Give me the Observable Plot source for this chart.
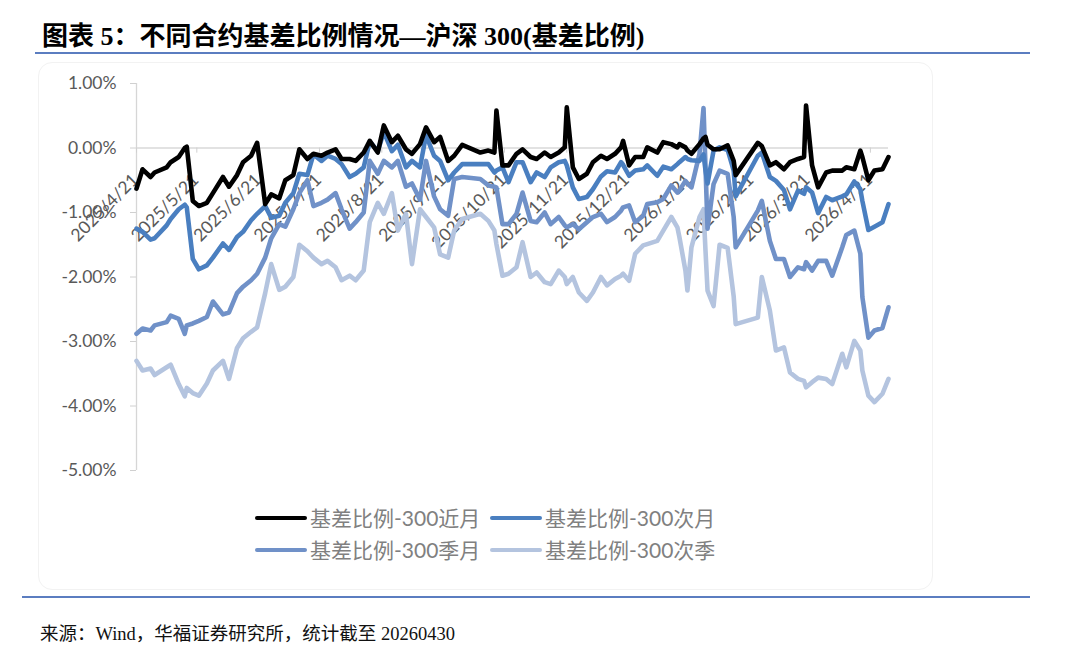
<!DOCTYPE html>
<html>
<head>
<meta charset="utf-8">
<script src="https://cdn.jsdelivr.net/npm/d3@7"></script>
<script src="https://cdn.jsdelivr.net/npm/@observablehq/plot@0.6"></script>
<style>
  html, body { margin: 0; padding: 0; background: #fff; }
  #page { position: relative; width: 1080px; height: 661px; overflow: hidden; background: #fff; }
  #title { position: absolute; left: 42px; top: 22px; font: bold 26px/30px "Liberation Serif", "Noto Sans CJK SC", serif; color: #000; white-space: nowrap; }
  .rule { position: absolute; height: 1.5px; background: #5b7dc0; }
  #frame { position: absolute; left: 38px; top: 62px; width: 895px; height: 528px; border: 1px solid #f2f2f2; border-radius: 14px; box-sizing: border-box; }
  #chart { position: absolute; left: 0; top: 60px; }
  .legend-item { position: absolute; height: 30px; display: flex; align-items: center; font: 21px/30px Lato, "Noto Sans CJK SC", sans-serif; color: #808080; white-space: nowrap; }
  .swatch { width: 52px; height: 4.5px; border-radius: 2px; margin-right: 3px; }
  #source { position: absolute; left: 40px; top: 622px; font: 18.5px/24px "Liberation Serif", "Noto Sans CJK SC", serif; color: #111; white-space: nowrap; }
</style>
</head>
<body>
<div id="page">
  <div id="title">图表 5：不同合约基差比例情况—沪深 300(基差比例)</div>
  <div class="rule" style="left:35px; top:52px; width:995px;"></div>
  <div id="frame"></div>
  <div id="chart"></div>
  <div id="legend"></div>
  <div class="rule" style="left:22px; top:596px; width:1008px;"></div>
  <div id="source">来源：Wind，华福证券研究所，统计截至 20260430</div>
</div>
<script>
// Trading dates sampled across the year
const dates = [
  "2025-04-21","2025-04-24","2025-04-28","2025-04-30","2025-05-06","2025-05-08","2025-05-12","2025-05-15","2025-05-16","2025-05-19",
  "2025-05-22","2025-05-26","2025-05-29","2025-06-03","2025-06-06","2025-06-10","2025-06-13","2025-06-17","2025-06-20","2025-06-24",
  "2025-06-27","2025-07-01","2025-07-04","2025-07-08","2025-07-11","2025-07-15","2025-07-18","2025-07-22","2025-07-25","2025-07-29",
  "2025-08-01","2025-08-05","2025-08-08","2025-08-12","2025-08-15","2025-08-19","2025-08-22","2025-08-26","2025-08-29","2025-09-02",
  "2025-09-05","2025-09-09","2025-09-12","2025-09-16","2025-09-19","2025-09-23","2025-09-26","2025-09-30","2025-10-09","2025-10-13",
  "2025-10-16","2025-10-17","2025-10-20","2025-10-23","2025-10-27","2025-10-30","2025-11-03","2025-11-06","2025-11-10","2025-11-13",
  "2025-11-17","2025-11-20","2025-11-21","2025-11-24","2025-11-27","2025-12-01","2025-12-04","2025-12-08","2025-12-11","2025-12-15",
  "2025-12-18","2025-12-19","2025-12-22","2025-12-25","2025-12-29","2025-12-31","2026-01-05","2026-01-08","2026-01-12","2026-01-15",
  "2026-01-16","2026-01-19","2026-01-20","2026-01-22","2026-01-26","2026-01-28","2026-01-29","2026-01-30","2026-02-02","2026-02-05",
  "2026-02-09","2026-02-12","2026-02-13","2026-02-24","2026-02-26","2026-03-02","2026-03-05","2026-03-09","2026-03-12","2026-03-16",
  "2026-03-19","2026-03-20","2026-03-23","2026-03-26","2026-03-30","2026-04-02","2026-04-07","2026-04-09","2026-04-13","2026-04-16",
  "2026-04-17","2026-04-20","2026-04-23","2026-04-27","2026-04-30"
];

// Basis ratio (%) — current-month contract
const nearMonth = [
  -0.63,-0.33,-0.45,-0.38,-0.30,-0.22,-0.14,0.00,0.02,-0.82,
  -0.90,-0.85,-0.70,-0.45,-0.60,-0.42,-0.22,-0.12,0.08,-0.87,
  -0.72,-0.78,-0.50,-0.42,-0.02,-0.17,-0.09,-0.12,-0.07,-0.02,
  -0.17,-0.17,-0.20,-0.07,0.11,-0.07,0.35,0.09,0.19,-0.02,
  -0.09,0.06,0.32,0.09,0.17,-0.20,-0.12,0.05,-0.07,-0.04,
  -0.07,0.58,-0.27,-0.27,-0.09,-0.02,-0.14,-0.17,-0.07,-0.14,
  -0.07,0.01,0.63,-0.30,-0.48,-0.40,-0.22,-0.12,-0.17,-0.09,
  0.01,0.11,-0.27,-0.14,-0.14,0.01,-0.07,0.09,0.06,0.01,
  0.06,0.01,-0.04,-0.09,0.06,0.15,0.17,0.05,-0.02,-0.02,
  0.04,-0.20,-0.42,0.08,0.03,-0.27,-0.22,-0.33,-0.22,-0.17,
  -0.14,0.66,-0.27,-0.61,-0.38,-0.35,-0.35,-0.30,-0.33,-0.04,
  -0.14,-0.50,-0.35,-0.33,-0.14
];

// Basis ratio (%) — next-month contract
const nextMonth = [
  -1.25,-1.30,-1.42,-1.40,-1.20,-1.10,-0.95,-0.88,-0.92,-1.72,
  -1.88,-1.82,-1.70,-1.48,-1.58,-1.38,-1.30,-1.12,-1.02,-0.90,
  -1.08,-1.05,-0.85,-0.70,-0.40,-0.42,-0.10,-0.20,-0.12,-0.17,
  -0.25,-0.45,-0.40,-0.30,0.10,-0.05,0.25,-0.05,0.05,-0.30,
  -0.20,-0.30,0.20,-0.12,-0.20,-0.50,-0.38,-0.25,-0.25,-0.25,
  -0.38,-0.35,-0.30,-0.53,-0.22,-0.22,-0.53,-0.38,-0.45,-0.30,
  -0.22,-0.20,-0.27,-0.61,-0.79,-0.76,-0.64,-0.44,-0.36,-0.38,
  -0.22,-0.26,-0.43,-0.35,-0.33,-0.27,-0.43,-0.29,-0.33,-0.25,
  -0.22,-0.14,-0.17,-0.19,-0.20,-0.10,-0.35,-0.55,-0.04,0.01,
  -0.03,-0.35,-0.75,-0.12,-0.07,-0.45,-0.51,-0.65,-0.95,-0.66,
  -0.71,-0.61,-0.69,-1.01,-0.76,-0.81,-0.75,-0.72,-0.52,-0.64,
  -0.82,-1.27,-1.22,-1.15,-0.87
];

// Basis ratio (%) — nearest quarterly contract
const quarterMonth = [
  -2.88,-2.80,-2.83,-2.75,-2.70,-2.60,-2.65,-2.88,-2.75,-2.72,
  -2.68,-2.62,-2.38,-2.58,-2.55,-2.25,-2.15,-2.05,-1.95,-1.70,
  -1.40,-1.18,-1.22,-0.95,-0.70,-0.50,-0.90,-0.85,-0.80,-0.70,
  -0.95,-1.25,-1.15,-1.00,-0.20,-0.40,-0.20,-0.30,-0.20,-0.60,
  -0.55,-0.80,-0.20,-0.75,-0.95,-1.05,-0.48,-0.45,-0.48,-0.58,
  -0.60,-0.61,-1.18,-1.18,-1.02,-0.69,-1.13,-1.15,-1.00,-1.18,
  -1.07,-1.20,-1.23,-1.18,-1.26,-1.15,-1.07,-1.02,-1.15,-1.07,
  -0.97,-0.92,-0.89,-1.15,-1.05,-0.87,-0.84,-0.79,-0.58,-0.69,
  -0.66,-0.51,-0.55,-0.61,-0.09,0.62,-0.30,-1.25,-0.56,-0.35,
  -0.40,-1.07,-1.54,-0.97,-0.82,-1.44,-1.72,-1.72,-2.00,-1.85,
  -1.88,-1.77,-1.90,-1.75,-1.75,-1.98,-1.54,-1.35,-1.28,-1.64,
  -2.31,-2.94,-2.83,-2.79,-2.47
];

// Basis ratio (%) — next quarterly contract
const nextQuarter = [
  -3.30,-3.45,-3.42,-3.52,-3.40,-3.36,-3.66,-3.85,-3.72,-3.80,
  -3.84,-3.65,-3.45,-3.30,-3.58,-3.10,-2.95,-2.85,-2.78,-2.25,
  -1.80,-2.20,-2.15,-2.00,-1.50,-1.60,-1.70,-1.80,-1.75,-1.85,
  -2.05,-1.98,-2.05,-1.90,-1.15,-0.85,-1.02,-0.70,-1.28,-1.02,
  -1.80,-0.95,-1.07,-1.23,-1.65,-1.70,-1.28,-1.10,-1.02,-1.13,
  -1.28,-1.49,-1.98,-1.95,-1.85,-1.46,-2.00,-1.93,-2.08,-2.11,
  -1.90,-2.00,-2.11,-2.00,-2.24,-2.37,-2.24,-2.00,-2.13,-2.03,
  -1.98,-1.95,-2.06,-1.64,-1.51,-1.49,-1.44,-1.28,-1.07,-1.23,
  -1.38,-1.90,-2.21,-1.54,-1.07,-0.95,-1.60,-2.21,-2.45,-1.50,
  -1.55,-2.30,-2.73,-2.63,-2.00,-2.52,-3.14,-3.09,-3.48,-3.58,
  -3.61,-3.71,-3.63,-3.56,-3.58,-3.66,-3.19,-3.40,-2.99,-3.14,
  -3.45,-3.84,-3.94,-3.81,-3.58
];

const seriesNames = ["基差比例-300近月", "基差比例-300次月", "基差比例-300季月", "基差比例-300次季"];
const seriesColors = ["#000000", "#4a7fc0", "#7091c8", "#b4c4df"];
const xTicks = [
  "2025-04-21","2025-05-21","2025-06-21","2025-07-21","2025-08-21","2025-09-21","2025-10-21",
  "2025-11-21","2025-12-21","2026-01-21","2026-02-21","2026-03-21","2026-04-21"
];
const yTicks = [1, 0, -1, -2, -3, -4, -5];
const xDomain = ["2025-04-21", "2026-04-30"];

const parse = d3.utcParse("%Y-%m-%d");
const tickLabel = s => { const [y, m, d] = s.split("-"); return `${+y}/${+m}/${+d}`; };

const seriesValues = [nearMonth, nextMonth, quarterMonth, nextQuarter];
const rows = seriesNames.flatMap((name, k) =>
  dates.map((d, i) => ({ date: parse(d), value: seriesValues[k][i], series: name }))
);

// later series drawn first so the current-month line sits on top
const lineMarks = [3, 2, 1, 0].map(k =>
  Plot.line(rows.filter(r => r.series === seriesNames[k]), {
    x: "date", y: "value",
    stroke: seriesColors[k], strokeWidth: 4.6,
    strokeLinejoin: "round", strokeLinecap: "round"
  })
);

const chart = Plot.plot({
  width: 1080,
  height: 430,
  marginLeft: 136,
  marginRight: 192,
  marginTop: 23,
  marginBottom: 20,
  style: { background: "transparent", fontFamily: "Lato, 'Noto Sans CJK SC', sans-serif", fontSize: "17px", overflow: "visible" },
  x: { type: "utc", domain: xDomain.map(parse), axis: null },
  y: { domain: [-5, 1], axis: null },
  marks: [
    Plot.ruleX([parse(xDomain[0])], { y1: -5, y2: 1, stroke: "#d6d6d6", strokeWidth: 1.3 }),
    Plot.axisY(yTicks, {
      anchor: "left", tickSize: 6, tickPadding: 14, label: null,
      tickFormat: d => d.toFixed(2) + "%",
      stroke: "#d0d0d0", fill: "#595959", fontSize: 17.5
    }),
    Plot.ruleY([0], { stroke: "#d9d9d9", strokeWidth: 1.5 }),
    Plot.ruleX(xTicks, { x: d => parse(d), y1: 0, y2: -0.08, stroke: "#d0d0d0" }),
    Plot.text(xTicks, {
      x: d => parse(d), y: 0, text: tickLabel,
      rotate: -45, textAnchor: "end", dx: -1, dy: 29,
      fill: "#595959", fontSize: 17.5
    }),
    ...lineMarks
  ]
});
document.getElementById("chart").appendChild(chart);

// legend: two rows of two entries
const legend = document.getElementById("legend");
const legendPos = [[255, 503], [490, 503], [255, 535], [490, 535]];
seriesNames.forEach((name, k) => {
  const item = document.createElement("div");
  item.className = "legend-item";
  item.style.left = legendPos[k][0] + "px";
  item.style.top = legendPos[k][1] + "px";
  const sw = document.createElement("span");
  sw.className = "swatch";
  sw.style.background = seriesColors[k];
  const label = document.createElement("span");
  label.textContent = name;
  item.appendChild(sw);
  item.appendChild(label);
  legend.appendChild(item);
});
</script>
</body>
</html>
